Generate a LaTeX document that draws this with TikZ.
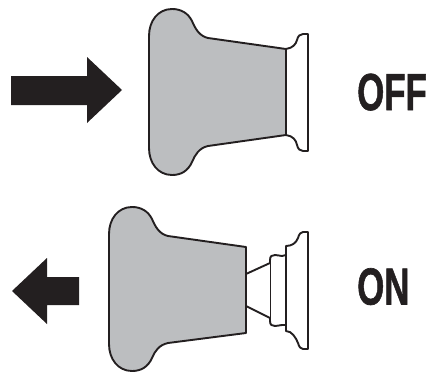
\documentclass[tikz,border=0pt]{standalone}
\usepackage{graphicx}
\usepackage{fontspec}
\setmainfont{Liberation Sans}
\newfontfamily\labelfont[FakeBold=1.3]{Liberation Sans Bold}
\definecolor{knobgrey}{RGB}{188,190,192}
\definecolor{inkblack}{RGB}{35,31,32}
\tikzset{
  knob/.style={draw=inkblack,line width=1.9pt,fill=knobgrey,line join=round},
  part/.style={draw=inkblack,line width=1.9pt,fill=white,line join=round},
  thinpart/.style={draw=inkblack,line width=0.9pt},
  bigarrow/.style={fill=inkblack,draw=none},
  statelabel/.style={anchor=base west,inner sep=0pt,text=inkblack,font=\fontsize{52}{52}\labelfont}
}
\begin{document}
\begin{tikzpicture}[x=1pt,y=-1pt]
\useasboundingbox (0,0) rectangle (428,372);
% OFF: flange
\path[part] (286,49) .. controls (293,48) and (296,44) .. (297,40)
  .. controls (298,36) and (300,34) .. (303,34) -- (308,34) -- (308,151) -- (303,151)
  .. controls (300,151) and (298,149) .. (297,145)
  .. controls (296,140) and (293,136) .. (286,135) -- cycle;
% OFF: knob
\path[knob] (286,49) -- (208,38)
  .. controls (199,36) and (195,28) .. (192,21)
  .. controls (188,13) and (181,9) .. (172,9)
  .. controls (158,9) and (149,21) .. (149,36)
  -- (149,148)
  .. controls (149,163) and (158,175) .. (172,175)
  .. controls (181,175) and (188,171) .. (192,162)
  .. controls (195,155) and (199,148) .. (208,146)
  -- (286,135) -- cycle;
% ON: plunger
\path[part] (286,246) .. controls (292,246) and (296,243) .. (298,238)
  .. controls (299,234) and (301,232) .. (303,232) -- (308,232) -- (308,349) -- (303,349)
  .. controls (301,349) and (299,347) .. (298,343)
  .. controls (296,338) and (292,331) .. (286,331) -- cycle;
\path[part] (246,274) -- (270,263) -- (270,260)
  .. controls (270,256) and (272,255) .. (275,255)
  .. controls (278,255) and (280,256) .. (282,256) -- (286,255)
  -- (286,325) -- (282,325) .. controls (280,325) and (278,326) .. (275,326)
  .. controls (272,326) and (270,325) .. (270,321) -- (270,318) -- (246,306);
\draw[thinpart] (270,263) -- (270,318);
% ON: knob
\path[knob] (246,247) -- (168,236)
  .. controls (159,234) and (155,226) .. (152,219)
  .. controls (148,211) and (141,207) .. (132,207)
  .. controls (118,207) and (109,219) .. (109,234)
  -- (109,344)
  .. controls (109,359) and (118,371) .. (132,371)
  .. controls (141,371) and (148,367) .. (152,358)
  .. controls (155,351) and (159,345) .. (168,343)
  -- (246,333) -- cycle;
% arrows
\fill[bigarrow] (11,76) -- (87,76) -- (87,57) -- (122,90) -- (87,123) -- (87,105) -- (11,105) -- cycle;
\fill[bigarrow] (79,277) -- (47,277) -- (47,258) -- (12,291) -- (47,324) -- (47,305) -- (79,305) -- cycle;
% labels
\node[statelabel] (off) at (357,110) {\scalebox{0.67}[1]{OFF}};
\node[statelabel] (on) at (357,304.5) {\scalebox{0.67}[1]{ON}};
\end{tikzpicture}
\end{document}
